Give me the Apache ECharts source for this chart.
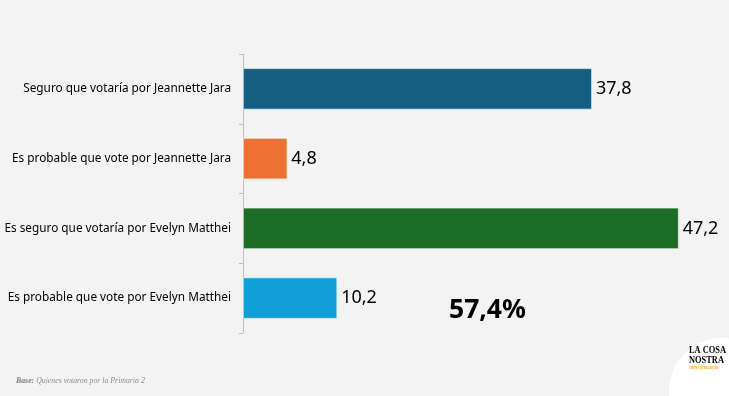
<!DOCTYPE html>
<html>
<head>
<meta charset="utf-8">
<script src="https://cdn.jsdelivr.net/npm/echarts@6/dist/echarts.min.js"></script>
<style>
html,body{margin:0;padding:0;background:#f3f3f3;}
#main{width:729px;height:396px;}
</style>
</head>
<body>
<div id="main"></div>
<script>
const categories = [
  "Seguro que votaría por Jeannette Jara",
  "Es probable que vote por Jeannette Jara",
  "Es seguro que votaría por Evelyn Matthei",
  "Es probable que vote por Evelyn Matthei"
];
const values = [37.8, 4.8, 47.2, 10.2];
const barColors = ["#156082", "#ed7032", "#1b6d27", "#0f9ed5"];
const highlightText = "57,4%";
const baseLabel = "Base:";
const baseText = " Quienes votaron por la Primaria 2";

const chart = echarts.init(document.getElementById('main'));
chart.setOption({
  backgroundColor: '#f3f3f3',
  animation: false,
  grid: { left: 243, right: 24.5, top: 54, bottom: 63, containLabel: false, outerBoundsMode: 'none' },
  xAxis: { type: 'value', min: 0, max: 50, show: false },
  yAxis: {
    type: 'category',
    inverse: true,
    data: categories,
    axisLine: { show: true, lineStyle: { color: '#bfbfbf', width: 1 } },
    axisTick: { show: true, length: 4, lineStyle: { color: '#bfbfbf' } },
    axisLabel: { color: '#000', fontSize: 11.8, fontFamily: 'Noto Sans', margin: 12 }
  },
  series: [{
    type: 'bar',
    data: values.map((v, i) => ({ value: v, itemStyle: { color: barColors[i] } })),
    barCategoryGap: '41%',
    itemStyle: { borderColor: '#ffffff', borderWidth: 0.6 },
    label: {
      show: true, position: 'right', distance: 4,
      color: '#000', fontSize: 18, fontFamily: 'Noto Sans',
      formatter: p => String(p.value).replace('.', ',')
    }
  }],
  graphic: [
    { type: 'text', left: 449, top: 297, style: { text: highlightText, fontSize: 26.5, fontWeight: 'bold', fontFamily: 'Noto Sans', fill: '#000' } },
    { type: 'text', left: 16, top: 377, style: {
      rich: {
        b: { fontFamily: 'Liberation Serif', fontStyle: 'italic', fontWeight: 'bold', fontSize: 7.8, fill: '#7f7f7f' },
        n: { fontFamily: 'Liberation Serif', fontStyle: 'italic', fontSize: 7.8, fill: '#8c8c8c' }
      },
      text: '{b|' + baseLabel + '}{n|' + baseText + '}'
    } },
    { type: 'circle', x: 722, y: 391, shape: { cx: 0, cy: 0, r: 53 }, style: { fill: '#ffffff' }, z: 1 },
    { type: 'text', x: 689, y: 345, scaleX: 0.8, z: 2, style: { text: 'LA COSA', fontFamily: 'Liberation Serif', fontWeight: 'bold', fontSize: 10.5, fill: '#000' } },
    { type: 'text', x: 689, y: 355, scaleX: 0.8, z: 2, style: { text: 'NOSTRA', fontFamily: 'Liberation Serif', fontWeight: 'bold', fontSize: 10.5, fill: '#000' } },
    { type: 'text', x: 689, y: 367, scaleX: 0.75, z: 2, style: { text: 'CENTRO DE ENCUESTAS', fontFamily: 'Liberation Sans', fontWeight: 'bold', fontSize: 3.2, fill: '#f2a31c' } }
  ]
});
</script>
</body>
</html>
